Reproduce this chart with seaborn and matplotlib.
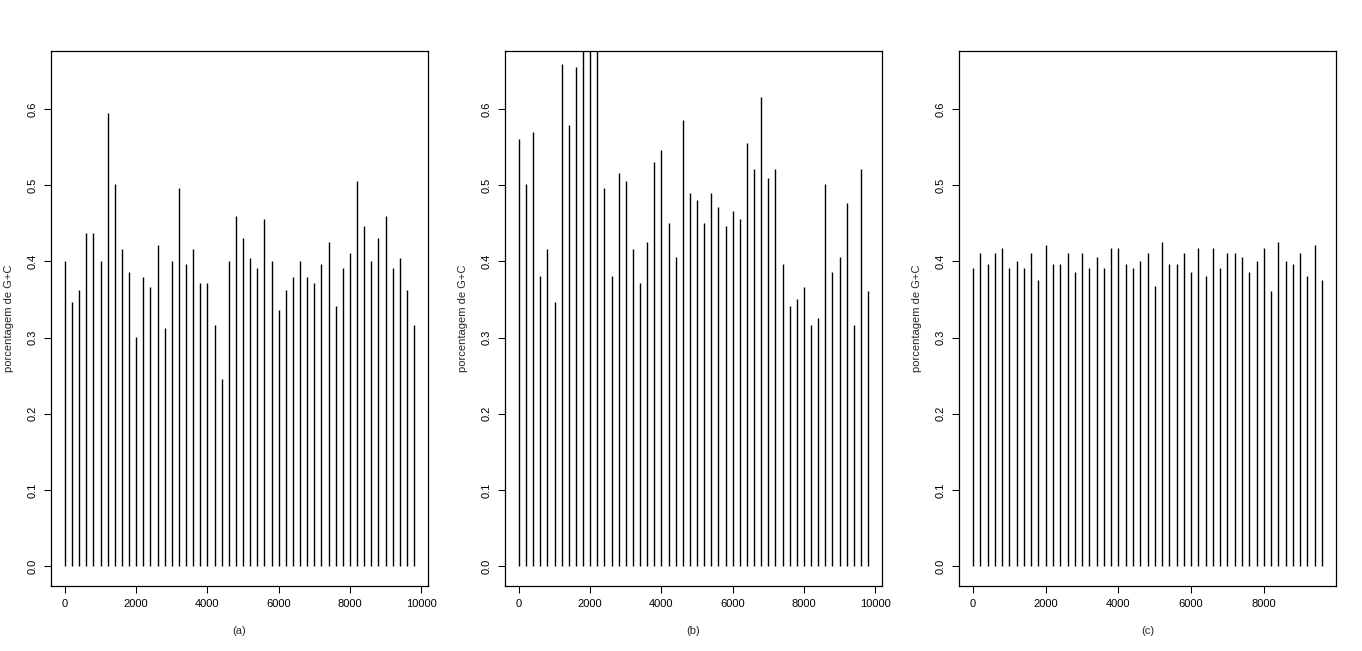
import numpy as np
import pandas as pd
import seaborn as sns
import matplotlib.pyplot as plt

# posicoes das janelas (pb)
pos_ab = list(range(0, 10000, 200))
pos_c = list(range(0, 9800, 200))

# porcentagem de G+C por janela
gc_a = [0.400, 0.346, 0.362, 0.437, 0.437, 0.400, 0.595, 0.501, 0.416, 0.386,
        0.301, 0.380, 0.366, 0.422, 0.312, 0.400, 0.496, 0.396, 0.416, 0.372,
        0.372, 0.317, 0.246, 0.400, 0.460, 0.431, 0.405, 0.391, 0.456, 0.400,
        0.336, 0.362, 0.380, 0.400, 0.380, 0.372, 0.396, 0.426, 0.341, 0.391,
        0.411, 0.505, 0.447, 0.400, 0.431, 0.460, 0.391, 0.405, 0.362, 0.317]
gc_b = [0.560, 0.501, 0.570, 0.381, 0.416, 0.346, 0.659, 0.579, 0.655, 0.700,
        0.720, 0.690, 0.496, 0.381, 0.516, 0.505, 0.416, 0.371, 0.426, 0.531,
        0.546, 0.450, 0.406, 0.585, 0.490, 0.480, 0.450, 0.490, 0.471, 0.446,
        0.466, 0.455, 0.555, 0.521, 0.615, 0.510, 0.521, 0.396, 0.341, 0.351,
        0.366, 0.317, 0.326, 0.501, 0.386, 0.406, 0.476, 0.317, 0.521, 0.361]
gc_c = [0.391, 0.411, 0.397, 0.411, 0.417, 0.391, 0.401, 0.391, 0.411, 0.376,
        0.422, 0.397, 0.397, 0.411, 0.386, 0.411, 0.391, 0.406, 0.391, 0.417,
        0.417, 0.397, 0.391, 0.401, 0.411, 0.367, 0.426, 0.397, 0.397, 0.411,
        0.386, 0.417, 0.381, 0.417, 0.391, 0.411, 0.411, 0.406, 0.386, 0.401,
        0.417, 0.361, 0.426, 0.401, 0.397, 0.411, 0.381, 0.422, 0.376]

panels = [("(a)", pos_ab, gc_a), ("(b)", pos_ab, gc_b), ("(c)", pos_c, gc_c)]

sns.set_style("ticks")
plt.rcParams['font.family'] = ['Liberation Sans', 'DejaVu Sans']
plt.rcParams['font.size'] = 8

fig = plt.figure(figsize=(13.62, 6.51), dpi=100)
W, H = 1362, 651
lefts = [51, 505, 959]

for left, (lab, x, y) in zip(lefts, panels):
    ax = fig.add_axes([left / W, (H - 586) / H, 377 / W, 535 / H])
    df = pd.DataFrame({"pos": x, "gc": y})
    ax.vlines(df["pos"], 0, df["gc"], color="black", linewidth=1.0)
    span = max(x) - min(x)
    x0, x1 = min(x) - 0.04 * span, max(x) + 0.04 * span
    ax.set_xlim(x0, x1)
    ax.set_ylim(-0.026, 0.676)
    ax.set_xticks([t for t in range(0, 10001, 2000) if t <= x1])
    ax.set_yticks([0, 0.1, 0.2, 0.3, 0.4, 0.5, 0.6])
    ax.set_yticklabels(["0.0", "0.1", "0.2", "0.3", "0.4", "0.5", "0.6"],
                       rotation=90, va="center")
    ax.tick_params(direction="out", length=5, width=0.75, pad=4.5,
                   colors="black", labelsize=8)
    for s in ax.spines.values():
        s.set_visible(True)
        s.set_linewidth(0.9)
        s.set_color("black")
    ax.set_xlabel(lab, fontsize=8, labelpad=12)
    ax.set_ylabel("porcentagem de G+C", fontsize=8, labelpad=10)

fig.savefig("out.png", dpi=100, facecolor="white")
